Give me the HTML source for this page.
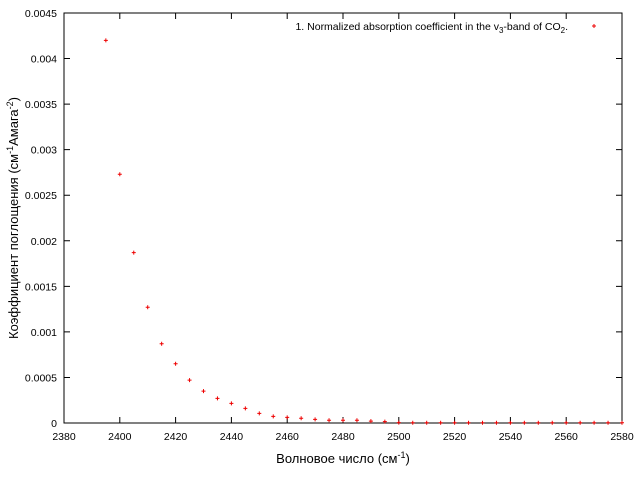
<!DOCTYPE html>
<html><head><meta charset="utf-8"><style>
body{margin:0;background:#fff;}
svg{display:block;font-family:"Liberation Sans","DejaVu Sans",sans-serif;}
</style></head><body>
<svg id="chart" width="640" height="480" viewBox="0 0 640 480" xmlns="http://www.w3.org/2000/svg">
<rect x="0" y="0" width="640" height="480" fill="#fff"/>
<g id="ticks"></g>
<rect x="64" y="13" width="558" height="410" fill="none" stroke="#000" stroke-width="1"/>
<g id="points"></g>
<text x="343" y="463" font-size="13" text-anchor="middle">Волновое число (см<tspan dy="-5" font-size="9">-1</tspan><tspan dy="5">)</tspan></text>
<text transform="translate(18,218) rotate(-90)" font-size="13" text-anchor="middle">Коэффициент поглощения (см<tspan dy="-5" font-size="9">-1</tspan><tspan dy="5">Амага</tspan><tspan dy="-5" font-size="9">-2</tspan><tspan dy="5">)</tspan></text>
<g>
<text x="568" y="30" font-size="10.5" text-anchor="end">1. Normalized absorption coefficient in the v<tspan dy="3" font-size="8">3</tspan><tspan dy="-3">-band of CO</tspan><tspan dy="3" font-size="8">2</tspan><tspan dy="-3">.</tspan></text>
<path d="M592 26h4M594 24v4" stroke="#e00" stroke-width="1"/>
</g>
</svg>
<script>
const xValues=[2395,2400,2405,2410,2415,2420,2425,2430,2435,2440,2445,2450,2455,2460,2465,2470,2475,2480,2485,2490,2495,2500,2505,2510,2515,2520,2525,2530,2535,2540,2545,2550,2555,2560,2565,2570,2575,2580];
const yValues=[0.0042,0.00273,0.00187,0.00127,0.00087,0.00065,0.00047,0.00035,0.00027,0.000216,0.000161,0.000106,0.000073,0.000062,0.000052,0.00004,0.00003,0.00003,0.00003,0.00002,0.000015,0.000004,0.000003,0.000003,0.000003,0.000003,0.000003,0.000003,0.000003,0.000003,0.000003,0.000003,0.000003,0.000003,0.000003,0.000003,0.000003,0.000003];
const xTicks=[2380,2400,2420,2440,2460,2480,2500,2520,2540,2560,2580];
const yTicks=[0,0.0005,0.001,0.0015,0.002,0.0025,0.003,0.0035,0.004,0.0045];
const yTickLabels=["0","0.0005","0.001","0.0015","0.002","0.0025","0.003","0.0035","0.004","0.0045"];
const NS="http://www.w3.org/2000/svg";
const X=v=>64+(v-2380)/200*558;
const Y=v=>423-v/0.0045*410;
const tg=document.getElementById('ticks');
xTicks.forEach(t=>{
 const x=X(t);
 const l=document.createElementNS(NS,'path');
 l.setAttribute('d',`M${x} 423v-6M${x} 13v6`);l.setAttribute('stroke','#000');
 
 
 tg.appendChild(l);
 const tx=document.createElementNS(NS,'text');
 tx.setAttribute('x',x);tx.setAttribute('y',440);tx.setAttribute('font-size','10.5');tx.setAttribute('text-anchor','middle');
 tx.textContent=t;
 
 
 tg.appendChild(tx);
});
yTicks.forEach((t,i)=>{
 const y=Y(t);
 const l=document.createElementNS(NS,'path');
 l.setAttribute('d',`M64 ${y}h6M622 ${y}h-6`);l.setAttribute('stroke','#000');
 
 
 tg.appendChild(l);
 const tx=document.createElementNS(NS,'text');
 tx.setAttribute('x',57);tx.setAttribute('y',y+4);tx.setAttribute('font-size','10.5');tx.setAttribute('text-anchor','end');
 tx.textContent=yTickLabels[i];
 
 
 tg.appendChild(tx);
});
const pg=document.getElementById('points');
xValues.forEach((xv,i)=>{
 const x=X(xv),y=Y(yValues[i]);
 const p=document.createElementNS(NS,'path');
 p.setAttribute('d',`M${x-2} ${y}h4M${x} ${y-2}v4`);
 p.setAttribute('stroke','#e00');p.setAttribute('stroke-width','1');
 
 
 pg.appendChild(p);
});
</script>
</body></html>
